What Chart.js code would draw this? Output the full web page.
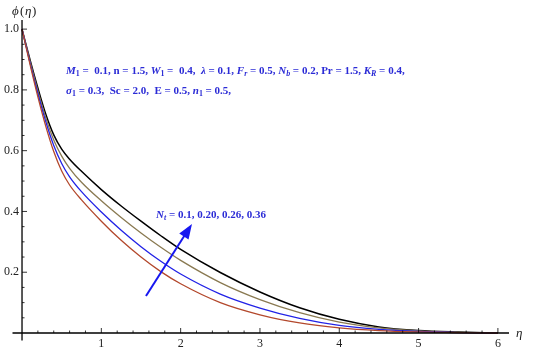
<!DOCTYPE html>
<html>
    <head>
        <meta charset="UTF-8">
        <title>phi(eta) profiles for Nt</title>
        <script src="https://cdn.jsdelivr.net/npm/chart.js"></script>
        <style>
            body { margin: 0; background: #fff; }
            #wrap { width: 550px; height: 351px; }
        </style>
    </head>
    <body>
        <div id="wrap"><canvas id="phiChart" width="550" height="351"></canvas></div>
        <script>
        // eta grid and phi values
        const eta      = [0, 0.1, 0.2, 0.3, 0.4, 0.5, 0.6, 0.75, 1.0, 1.25, 1.5, 1.75, 2.0, 2.5, 3.0, 3.5, 4.0, 4.5, 5.0, 5.5, 6.0];
        const phiNt010 = [1, 0.885, 0.777, 0.680, 0.597, 0.533, 0.487, 0.438, 0.368, 0.305, 0.250, 0.202, 0.162, 0.100, 0.060, 0.033, 0.017, 0.008, 0.0035, 0.001, 0];
        const phiNt020 = [1, 0.890, 0.788, 0.695, 0.617, 0.558, 0.514, 0.465, 0.398, 0.338, 0.284, 0.236, 0.194, 0.128, 0.082, 0.048, 0.025, 0.012, 0.005, 0.0015, 0];
        const phiNt026 = [1, 0.895, 0.797, 0.708, 0.635, 0.582, 0.542, 0.496, 0.435, 0.380, 0.329, 0.282, 0.239, 0.166, 0.110, 0.067, 0.036, 0.017, 0.007, 0.002, 0];
        const phiNt036 = [1, 0.900, 0.806, 0.720, 0.652, 0.605, 0.572, 0.532, 0.472, 0.418, 0.368, 0.320, 0.275, 0.199, 0.135, 0.083, 0.045, 0.020, 0.008, 0.003, 0];
        const seriesColors = ['#b3482c', '#2222e6', '#8a7a52', '#000000'];
        const xTicks = [1, 2, 3, 4, 5, 6];
        const yTicks = [0.2, 0.4, 0.6, 0.8, 1.0];

        const textBlue = '#2b2bd6';
        const serif = '"Liberation Serif", "Times New Roman", serif';

        function pts(ys) {
            return eta.map((x, i) => ({x: x, y: ys[i]}));
        }

        function drawRich(ctx, x, y, parts, size) {
            ctx.textBaseline = 'middle';
            ctx.textAlign = 'left';
            parts.forEach(p => {
                const fs = p.sub ? size * 0.72 : size;
                ctx.font = (p.i ? 'italic ' : '') + 'bold ' + fs + 'px ' + serif;
                ctx.fillText(p.t, x, y + (p.sub ? size * 0.3 : 0));
                x += ctx.measureText(p.t).width;
            });
        }

        // axes through the origin, Mathematica style
        const axesPlugin = {
            id: 'axesPlugin',
            afterDatasetsDraw(chart) {
                const ctx = chart.ctx;
                const xs = chart.scales.x, ys = chart.scales.y;
                const area = chart.chartArea;
                const x0 = xs.getPixelForValue(0), y0 = ys.getPixelForValue(0);
                ctx.save();
                ctx.strokeStyle = '#000';
                ctx.lineWidth = 1.3;
                ctx.beginPath();
                ctx.moveTo(area.left, y0); ctx.lineTo(area.right, y0);
                ctx.moveTo(x0, area.top); ctx.lineTo(x0, area.bottom);
                ctx.stroke();
                ctx.lineWidth = 0.8;
                ctx.beginPath();
                for (let k = 1; k <= 30; k++) {
                    const px = xs.getPixelForValue(k * 0.2);
                    const len = (k % 5 === 0) ? 5 : 2.5;
                    ctx.moveTo(px, y0); ctx.lineTo(px, y0 - len);
                }
                for (let k = 1; k <= 20; k++) {
                    const py = ys.getPixelForValue(k * 0.05);
                    const len = (k % 4 === 0) ? 5 : 2.5;
                    ctx.moveTo(x0, py); ctx.lineTo(x0 + len, py);
                }
                ctx.stroke();

                ctx.fillStyle = '#222';
                ctx.font = '12px ' + serif;
                ctx.textBaseline = 'middle';
                ctx.textAlign = 'center';
                xTicks.forEach(v => ctx.fillText(String(v), xs.getPixelForValue(v), y0 + 11));
                ctx.textAlign = 'right';
                yTicks.forEach(v => ctx.fillText(v.toFixed(1), x0 - 3, ys.getPixelForValue(v)));

                ctx.font = 'italic 13px ' + serif;
                ctx.textAlign = 'left';
                ctx.fillText('η', area.right + 7, y0 + 1);
                ctx.fillText('ϕ', x0 - 10, 12);
                ctx.font = '13px ' + serif;
                ctx.fillText('(', x0 - 2, 12);
                ctx.font = 'italic 13px ' + serif;
                ctx.fillText('η', x0 + 3, 12);
                ctx.font = '13px ' + serif;
                ctx.fillText(')', x0 + 10, 12);

                // arrow
                const tx = xs.getPixelForValue(1.563), ty = ys.getPixelForValue(0.122);
                const hx = xs.getPixelForValue(2.143), hy = ys.getPixelForValue(0.359);
                const ang = Math.atan2(hy - ty, hx - tx);
                ctx.strokeStyle = '#1717f0';
                ctx.fillStyle = '#1717f0';
                ctx.lineWidth = 2;
                ctx.beginPath();
                ctx.moveTo(tx, ty);
                ctx.lineTo(hx - 10 * Math.cos(ang), hy - 10 * Math.sin(ang));
                ctx.stroke();
                ctx.beginPath();
                ctx.moveTo(hx, hy);
                ctx.lineTo(hx - 15 * Math.cos(ang) + 5.5 * Math.sin(ang), hy - 15 * Math.sin(ang) - 5.5 * Math.cos(ang));
                ctx.lineTo(hx - 15 * Math.cos(ang) - 5.5 * Math.sin(ang), hy - 15 * Math.sin(ang) + 5.5 * Math.cos(ang));
                ctx.closePath();
                ctx.fill();

                ctx.fillStyle = textBlue;
                drawRich(ctx, xs.getPixelForValue(1.69), ys.getPixelForValue(0.388), [
                    {t: 'N', i: true}, {t: 't', i: true, sub: true}, {t: ' = 0.1, 0.20, 0.26, 0.36'}
                ], 11);
                drawRich(ctx, 66, 71, [
                    {t: 'M', i: true}, {t: '1', sub: true}, {t: ' =  0.1, n = 1.5, '},
                    {t: 'W', i: true}, {t: '1', sub: true}, {t: ' =  0.4,  '},
                    {t: 'λ', i: true}, {t: ' = 0.1, '},
                    {t: 'F', i: true}, {t: 'r', i: true, sub: true}, {t: ' = 0.5, '},
                    {t: 'N', i: true}, {t: 'b', i: true, sub: true}, {t: ' = 0.2, Pr = 1.5, '},
                    {t: 'K', i: true}, {t: 'R', i: true, sub: true}, {t: ' = 0.4,'}
                ], 11);
                drawRich(ctx, 66, 91, [
                    {t: 'σ', i: true}, {t: '1', sub: true}, {t: ' = 0.3,  Sc = 2.0,  E = 0.5, '},
                    {t: 'n', i: true}, {t: '1', sub: true}, {t: ' = 0.5,'}
                ], 11);
                ctx.restore();
            }
        };

        const ctx = document.getElementById('phiChart').getContext('2d');
        const chart = new Chart(ctx, {
            type: 'line',
            data: {
                datasets: [phiNt010, phiNt020, phiNt026, phiNt036].map((ys, i) => ({
                    label: 'Nt' + i,
                    data: pts(ys),
                    borderColor: seriesColors[i],
                    borderWidth: i === 3 ? 1.5 : 1.3,
                    pointRadius: 0,
                    fill: false,
                    cubicInterpolationMode: 'monotone'
                }))
            },
            options: {
                responsive: false,
                animation: false,
                layout: { padding: { left: 12.5, right: 41, top: 20, bottom: 10.4 } },
                plugins: { legend: { display: false }, tooltip: { enabled: false } },
                scales: {
                    x: { type: 'linear', min: -0.12, max: 6.14, display: false },
                    y: { type: 'linear', min: -0.025, max: 1.03, display: false }
                }
            },
            plugins: [axesPlugin]
        });
        </script>
    </body>
</html>
